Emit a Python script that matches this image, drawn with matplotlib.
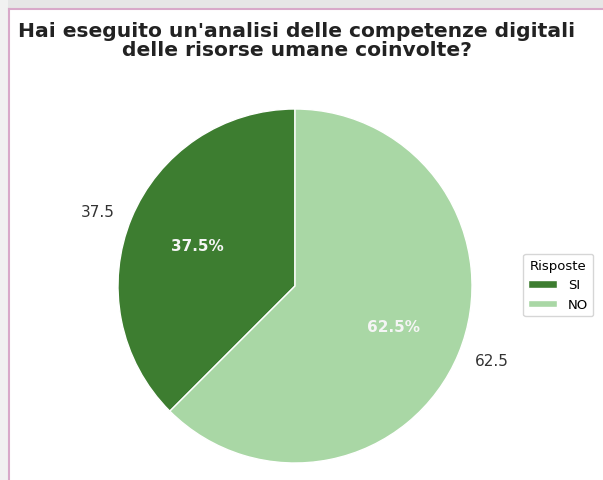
import matplotlib.pyplot as plt
from matplotlib.patches import Rectangle
from matplotlib.lines import Line2D

risposte = ["SI", "NO"]
valori = [37.5, 62.5]
colori = ["#3d7d30", "#a9d7a5"]
titolo = "Hai eseguito un'analisi delle competenze digitali\ndelle risorse umane coinvolte?"

W, H = 603, 481
fig = plt.figure(figsize=(W / 100, H / 100), dpi=100, facecolor="white")

# cornice della finestra: fascia grigia in alto e a sinistra, bordo rosa
fig.add_artist(Rectangle((0, 1 - 9 / H), 1, 9 / H, transform=fig.transFigure,
                         facecolor="#e6e6e6", edgecolor="none", zorder=-5))
fig.add_artist(Rectangle((0, 0), 8 / W, 1, transform=fig.transFigure,
                         facecolor="#f1f1f1", edgecolor="none", zorder=-5))
fig.add_artist(Line2D([8.5 / W, 1], [1 - 9.5 / H, 1 - 9.5 / H], transform=fig.transFigure,
                      color="#d8a9c9", lw=1.5))
fig.add_artist(Line2D([8.5 / W, 8.5 / W], [0, 1 - 9.5 / H], transform=fig.transFigure,
                      color="#d8a9c9", lw=1.5))

cx, cy, r = 295, 287, 177
ax = fig.add_axes([(cx - r) / W, (H - cy - r) / H, 2 * r / W, 2 * r / H])

wedges, labels, pcts = ax.pie(
    valori, labels=[f"{v}" for v in valori], colors=colori, startangle=90,
    autopct="%1.1f%%", wedgeprops=dict(edgecolor="white", linewidth=1),
    textprops=dict(fontsize=11, color="#333333"))
for t in pcts:
    t.set_color("#f5f5f5")
    t.set_fontweight("bold")
    t.set_fontsize(11)
ax.set_xlim(-1, 1)
ax.set_ylim(-1, 1)
ax.axis("off")

fig.text(297 / W, 1 - 41 / H, titolo, ha="center", va="center",
         fontsize=14.6, fontweight="bold", color="#222222", linespacing=1.0)

leg = fig.legend(wedges, risposte, title="Risposte", loc="center left",
                 bbox_to_anchor=(523 / W, (H - 286) / H), borderaxespad=0,
                 fontsize=9.5, title_fontsize=9.5, handlelength=2.2, handleheight=0.5)
leg.get_frame().set_edgecolor("#cccccc")

fig.savefig("out.png", dpi=100, facecolor="white")
